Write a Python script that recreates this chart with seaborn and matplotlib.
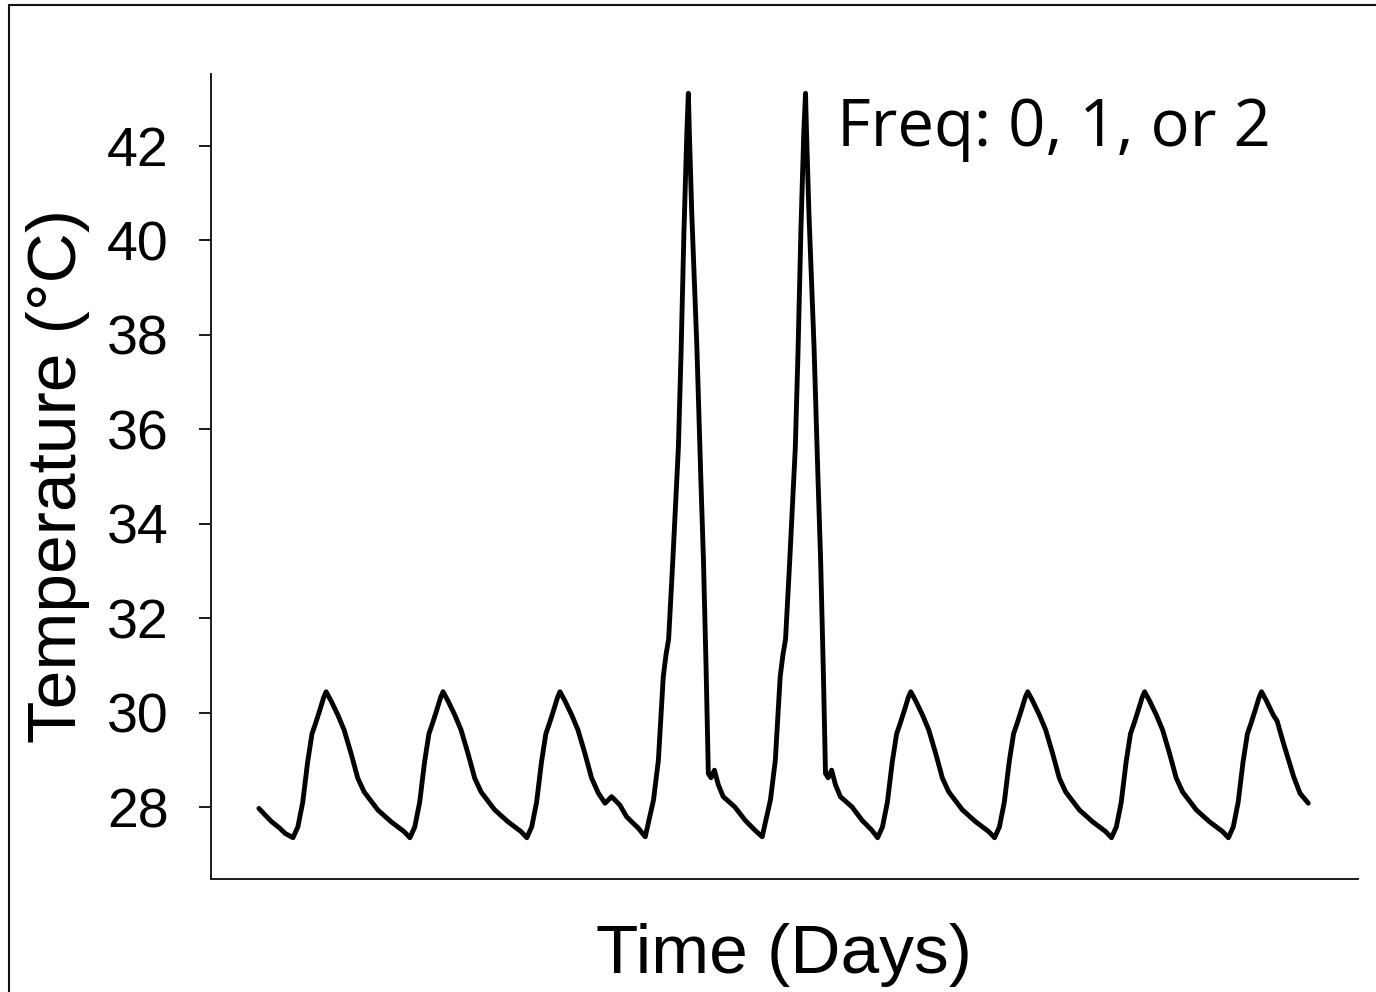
import numpy as np
import pandas as pd
import matplotlib
matplotlib.use("Agg")
import matplotlib.pyplot as plt
from matplotlib.patches import Rectangle
import seaborn as sns

# Logger record: hours since the first reading and temperature (°C).
# One line per daily cycle (minimum at dawn); the two hot days reach 43 °C.
hours = [
    0.0, 2.5, 4.3, 5.4,
    7.0, 8.0, 9.0, 10.0, 10.9, 11.6, 12.5, 13.3, 13.8, 14.8, 16.2, 17.5, 18.9, 20.3, 21.6, 24.4, 27.1, 29.8,
    31.0, 32.0, 33.0, 34.0, 34.9, 35.6, 36.5, 37.3, 37.8, 38.8, 40.2, 41.5, 42.9, 44.3, 45.6, 48.4, 51.1, 53.8,
    55.0, 56.0, 57.0, 58.0, 58.9, 59.6, 60.5, 61.3, 61.8, 62.8, 64.2, 65.5, 66.9, 68.3, 69.7, 71.05, 72.4, 74.1, 75.5, 77.9,
    79.3, 81.0, 82.0, 83.0, 83.6, 84.1, 84.95, 86.1, 86.65, 87.25, 87.85, 88.15, 88.35, 88.85, 89.9, 90.7, 91.25, 91.8,
    92.25, 92.8, 93.5, 94.3, 95.3, 97.7, 99.8, 101.8,
    103.3, 105.0, 106.0, 107.0, 107.6, 108.1, 108.95, 110.1, 110.65, 111.25, 111.85, 112.2, 112.4, 112.9, 113.95, 114.75,
    115.3, 115.85, 116.3, 116.85, 117.55, 118.35, 119.35, 121.75, 123.8, 125.8,
    127.0, 128.0, 129.0, 130.0, 130.9, 131.6, 132.5, 133.3, 133.8, 134.8, 136.2, 137.5, 138.9, 140.3, 141.6, 144.4, 147.1, 149.8,
    151.0, 152.0, 153.0, 154.0, 154.9, 155.6, 156.5, 157.3, 157.8, 158.8, 160.2, 161.5, 162.9, 164.3, 165.6, 168.4, 171.1, 173.8,
    175.0, 176.0, 177.0, 178.0, 178.9, 179.6, 180.5, 181.3, 181.8, 182.8, 184.2, 185.5, 186.9, 188.3, 189.6, 192.4, 195.1, 197.8,
    199.0, 200.0, 201.0, 202.0, 202.9, 203.6, 204.5, 205.3, 205.8, 206.8, 208.2, 209.0, 210.3, 212.4, 213.7, 215.4,
]
temp_c = [
    27.97, 27.70, 27.55, 27.44,
    27.35, 27.58, 28.10, 28.95, 29.55, 29.76, 30.05, 30.32, 30.44, 30.25, 29.95, 29.63, 29.14, 28.61, 28.32, 27.94, 27.69, 27.48,
    27.35, 27.58, 28.10, 28.95, 29.55, 29.76, 30.05, 30.32, 30.44, 30.25, 29.95, 29.63, 29.14, 28.61, 28.32, 27.94, 27.69, 27.48,
    27.35, 27.58, 28.10, 28.95, 29.55, 29.76, 30.05, 30.32, 30.44, 30.25, 29.95, 29.63, 29.14, 28.61, 28.29, 28.08, 28.22, 28.04, 27.79, 27.55,
    27.37, 28.15, 28.99, 30.76, 31.25, 31.55, 33.20, 35.60, 37.60, 40.20, 42.30, 43.11, 42.30, 40.57, 37.74, 34.99, 33.23, 30.90,
    28.71, 28.62, 28.78, 28.47, 28.22, 28.00, 27.72, 27.51,
    27.37, 28.15, 28.99, 30.76, 31.25, 31.55, 33.20, 35.60, 37.60, 40.20, 42.30, 43.11, 42.30, 40.57, 37.74, 34.99,
    33.23, 30.90, 28.71, 28.62, 28.78, 28.47, 28.22, 28.00, 27.72, 27.51,
    27.35, 27.58, 28.10, 28.95, 29.55, 29.76, 30.05, 30.32, 30.44, 30.25, 29.95, 29.63, 29.14, 28.61, 28.32, 27.94, 27.69, 27.48,
    27.35, 27.58, 28.10, 28.95, 29.55, 29.76, 30.05, 30.32, 30.44, 30.25, 29.95, 29.63, 29.14, 28.61, 28.32, 27.94, 27.69, 27.48,
    27.35, 27.58, 28.10, 28.95, 29.55, 29.76, 30.05, 30.32, 30.44, 30.25, 29.95, 29.63, 29.14, 28.61, 28.32, 27.94, 27.69, 27.48,
    27.35, 27.58, 28.10, 28.95, 29.55, 29.76, 30.05, 30.32, 30.44, 30.25, 29.95, 29.82, 29.35, 28.64, 28.29, 28.08,
]
y_ticks = [28, 30, 32, 34, 36, 38, 40, 42]
x_label = "Time (Days)"
y_label = "Temperature (°C)"
note = "Freq: 0, 1, or 2"

sns.set_style("ticks")
plt.rcParams["font.family"] = ["Liberation Sans", "DejaVu Sans"]

W, H = 1376, 992
fig = plt.figure(figsize=(W / 100, H / 100), dpi=100)
fig.patch.set_facecolor("white")

# axes box in pixel terms: left 211, right 1358, top 74, bottom 879
ax = fig.add_axes([211 / W, 1 - 879 / H, (1358 - 211) / W, (879 - 74) / H])

df = pd.DataFrame({"days": np.asarray(hours) / 24.0, "temp": temp_c})
sns.lineplot(data=df, x="days", y="temp", ax=ax, color="black",
             linewidth=3.5, estimator=None,
             solid_joinstyle="round", solid_capstyle="round")

ax.set_xlim(-9.83 / 24, 225.6 / 24)
ax.set_ylim(26.476, 43.518)
ax.set_xticks([])
ax.set_yticks(y_ticks)
ax.set_yticklabels([str(t) for t in y_ticks])
ax.tick_params(axis="y", length=8.6, width=1.4, labelsize=40, pad=22,
               color="#1a1a1a", labelcolor="black")
ax.set_xlabel("")
ax.set_ylabel("")
for side in ("top", "right"):
    ax.spines[side].set_visible(False)
for side in ("left", "bottom"):
    ax.spines[side].set_linewidth(1.4)
    ax.spines[side].set_color("#1a1a1a")

fig.text(784 / W, 1 - 973 / H, x_label, ha="center", va="baseline",
         fontsize=50, color="black")
fig.text(58 / W, 1 - 476 / H, y_label, rotation=90, ha="center", va="center",
         fontsize=50, color="black")
fig.text(837 / W, 1 - 146 / H, note, ha="left", va="baseline", fontsize=47,
         family=["Open Sans", "DejaVu Sans"], color="black")

# frame around the panel (runs off the right and bottom edges)
fig.add_artist(Rectangle((9 / W, -0.5), 2.0, 0.5 + (1 - 5 / H),
                         transform=fig.transFigure, fill=False,
                         edgecolor="#111111", linewidth=1.5))

fig.savefig("out.png", dpi=100, facecolor="white")
